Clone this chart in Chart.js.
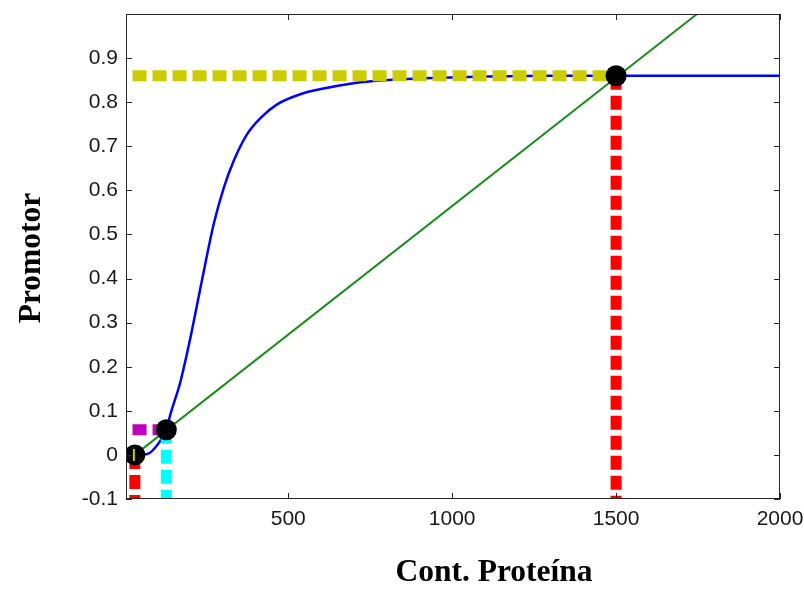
<!DOCTYPE html>
<html>
<head>
<meta charset="utf-8">
<script src="https://cdn.jsdelivr.net/npm/chart.js@4"></script>
<style>
  body { margin: 0; background: #ffffff; }
  #wrap { width: 804px; height: 589px; }
</style>
</head>
<body>
<div id="wrap"><canvas id="promChart" width="804" height="589"></canvas></div>
<script>
// Hill response of the promoter versus protein content
const blueX = [32, 70, 104, 128, 140, 171, 201, 223, 244, 272, 303, 333, 374, 415, 466, 537, 608, 689, 760, 841, 943, 1100, 1300, 2000];
const blueY = [0, 0.002, 0.026, 0.057, 0.091, 0.166, 0.264, 0.345, 0.423, 0.522, 0.605, 0.666, 0.727, 0.764, 0.795, 0.818, 0.831, 0.842, 0.848, 0.852, 0.855, 0.858, 0.86, 0.86];

// straight degradation line
const greenX = [32, 1747];
const greenY = [0, 1.0];

// equilibrium points (intersections)
const eqX = [32, 128, 1500];
const eqY = [0, 0.057, 0.86];

// guide lines from the equilibria to the axes
const xStart = 25;
const yBottom = -0.1;

const xTicks = [500, 1000, 1500, 2000];
const yTicks = [-0.1, 0, 0.1, 0.2, 0.3, 0.4, 0.5, 0.6, 0.7, 0.8, 0.9];

const pts = (xs, ys) => xs.map((x, i) => ({ x: x, y: ys[i] }));

function guide(data, color, order) {
  return {
    data: data,
    showLine: true,
    borderColor: color,
    borderWidth: 11,
    borderDash: [14, 6],
    borderCapStyle: 'butt',
    pointRadius: 0,
    order: order
  };
}

// MATLAB-like box with inward ticks on all four sides
const boxPlugin = {
  id: 'box',
  afterDatasetsDraw(chart) {
    const { ctx, chartArea: a, scales } = chart;
    ctx.save();
    ctx.strokeStyle = '#262626';
    ctx.lineWidth = 1;
    ctx.strokeRect(a.left + 0.5, a.top + 0.5, a.right - a.left - 1, a.bottom - a.top - 1);
    ctx.beginPath();
    xTicks.forEach(v => {
      const px = Math.round(scales.x.getPixelForValue(v)) + 0.5;
      ctx.moveTo(px, a.bottom); ctx.lineTo(px, a.bottom - 6);
      ctx.moveTo(px, a.top); ctx.lineTo(px, a.top + 6);
    });
    yTicks.forEach(v => {
      const py = Math.round(scales.y.getPixelForValue(v)) + 0.5;
      ctx.moveTo(a.left, py); ctx.lineTo(a.left + 6, py);
      ctx.moveTo(a.right, py); ctx.lineTo(a.right - 6, py);
    });
    ctx.stroke();

    // axis titles
    ctx.fillStyle = '#000000';
    ctx.font = 'bold 31.5px "Liberation Serif", "Times New Roman", serif';
    ctx.textAlign = 'center';
    ctx.textBaseline = 'middle';
    ctx.fillText('Cont. Proteína', 494, 573);
    ctx.translate(32, 258);
    ctx.rotate(-Math.PI / 2);
    ctx.fillText('Promotor', 0, 0);
    ctx.restore();
  }
};

const ctx = document.getElementById('promChart').getContext('2d');
new Chart(ctx, {
  type: 'scatter',
  data: {
    datasets: [
      // equilibrium dots on top
      {
        data: pts(eqX, eqY),
        pointRadius: 10.5,
        pointBackgroundColor: '#000000',
        pointBorderColor: '#000000',
        pointBorderWidth: 0,
        showLine: false,
        order: 1
      },
      // small yellow mark left over at the first equilibrium
      {
        data: [{ x: eqX[0] - 6, y: eqY[0] }, { x: eqX[0], y: eqY[0] }],
        showLine: true,
        borderColor: '#cccc00',
        borderWidth: 12,
        borderDash: [2, 20],
        borderCapStyle: 'butt',
        pointRadius: 0,
        order: 0
      },
      guide([{ x: xStart, y: eqY[2] }, { x: eqX[2], y: eqY[2] }], '#cccc00', 2),
      guide([{ x: eqX[2], y: eqY[2] }, { x: eqX[2], y: yBottom }], '#ff0000', 2),
      guide([{ x: xStart, y: eqY[1] }, { x: eqX[1], y: eqY[1] }], '#bf00bf', 2),
      guide([{ x: eqX[1], y: eqY[1] }, { x: eqX[1], y: yBottom }], '#00ffff', 2),
      guide([{ x: eqX[0], y: eqY[0] }, { x: eqX[0], y: yBottom }], '#ff0000', 2),
      {
        data: pts(blueX, blueY),
        showLine: true,
        borderColor: '#0000ff',
        borderWidth: 2.5,
        cubicInterpolationMode: 'monotone',
        pointRadius: 0,
        order: 3
      },
      {
        data: pts(greenX, greenY),
        showLine: true,
        borderColor: '#1e8c1e',
        borderWidth: 2,
        pointRadius: 0,
        order: 3
      }
    ]
  },
  options: {
    responsive: false,
    animation: false,
    layout: { padding: { top: 14, right: 24, left: 0, bottom: 0 } },
    plugins: {
      legend: { display: false },
      tooltip: { enabled: false }
    },
    scales: {
      x: {
        type: 'linear',
        min: 5,
        max: 2000,
        grid: { display: false, drawTicks: false },
        border: { display: false },
        afterBuildTicks: s => { s.ticks = xTicks.map(v => ({ value: v })); },
        afterFit: s => { s.height = 90; s.paddingLeft = 0; s.paddingRight = 0; },
        ticks: {
          color: '#1a1a1a',
          padding: 8,
          maxRotation: 0,
          font: { family: '"Liberation Sans", Arial, sans-serif', size: 21 },
          callback: v => String(v)
        }
      },
      y: {
        min: -0.1,
        max: 1.0,
        grid: { display: false, drawTicks: false },
        border: { display: false },
        afterBuildTicks: s => { s.ticks = yTicks.map(v => ({ value: v })); },
        afterFit: s => { s.width = 126; s.paddingTop = 0; s.paddingBottom = 0; },
        ticks: {
          color: '#1a1a1a',
          padding: 8,
          font: { family: '"Liberation Sans", Arial, sans-serif', size: 21 },
          callback: v => (Math.round(v * 10) / 10).toString()
        }
      }
    }
  },
  plugins: [boxPlugin]
});
</script>
</body>
</html>
